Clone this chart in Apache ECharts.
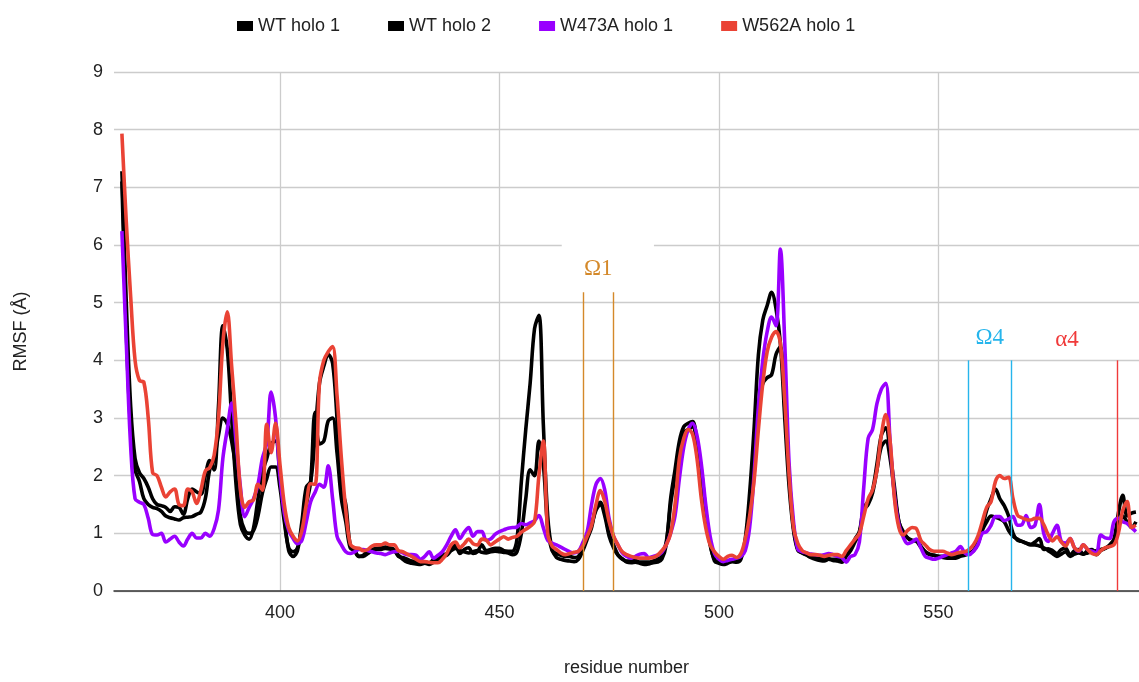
<!DOCTYPE html>
<html>
<head>
<meta charset="utf-8">
<script src="https://cdn.jsdelivr.net/npm/echarts@6/dist/echarts.min.js"></script>
<style>
html,body{margin:0;padding:0;background:#fff;}
#chart{width:1139px;height:682px;}
</style>
</head>
<body>
<div id="chart"></div>
<script>
// residue numbering of the first value in each series
const firstResidue = 364;
const seriesNames = ["WT holo 1", "WT holo 2", "W473A holo 1", "W562A holo 1"];
const xTicks = [400, 450, 500, 550];
const yTicks = [0,1,2,3,4,5,6,7,8,9];

const wtHolo1 = [
7.28,5.0,3.2,2.3,2.05,1.95,1.8,1.6,1.5,1.48,
1.45,1.38,1.46,1.45,1.33,1.6,1.77,1.72,1.68,2.0,
2.26,2.1,3.2,4.6,4.2,3.0,1.85,1.15,0.97,0.9,
1.1,1.6,2.06,2.3,2.55,2.6,2.0,1.3,0.7,0.6,
0.7,1.2,1.8,1.9,2.7,3.6,3.9,4.1,3.95,3.0,
1.8,1.5,0.8,0.7,0.6,0.62,0.7,0.72,0.74,0.75,
0.76,0.75,0.72,0.6,0.58,0.55,0.52,0.5,0.49,0.5,
0.49,0.55,0.6,0.62,0.65,0.72,0.8,0.65,0.72,0.75,
0.65,0.68,0.8,0.7,0.72,0.74,0.74,0.7,0.69,0.69,
0.9,1.9,2.8,3.6,4.55,4.78,2.9,1.3,0.72,0.58,
0.55,0.53,0.52,0.51,0.55,0.7,0.9,1.1,1.45,1.54,
1.35,1.0,0.8,0.63,0.56,0.5,0.49,0.5,0.48,0.46,
0.47,0.49,0.5,0.55,0.8,1.6,2.1,2.6,2.85,2.91,
2.94,2.6,2.1,1.4,0.85,0.52,0.48,0.46,0.48,0.51,
0.5,0.55,0.9,1.7,2.8,4.1,4.7,4.95,5.18,4.9,
4.3,3.0,1.8,1.05,0.7,0.66,0.62,0.58,0.55,0.53,
0.52,0.55,0.53,0.52,0.5,0.6,0.72,0.9,1.03,1.45,
1.55,1.75,2.2,2.7,2.83,2.4,1.8,1.2,1.03,0.92,
0.87,0.88,0.78,0.68,0.63,0.62,0.6,0.58,0.57,0.57,
0.57,0.6,0.62,0.65,0.7,0.85,1.1,1.4,1.6,1.77,
1.6,1.48,1.3,1.0,0.88,0.86,0.83,0.81,0.85,0.91,
0.72,0.73,0.7,0.65,0.72,0.74,0.62,0.7,0.72,0.64,
0.7,0.72,0.63,0.7,0.74,0.8,0.9,1.35,1.66,1.3,
1.35,1.37
];

const wtHolo2 = [
7.1,4.5,2.8,2.1,1.9,1.6,1.5,1.45,1.43,1.38,
1.3,1.27,1.25,1.23,1.27,1.28,1.29,1.33,1.37,1.6,
2.1,2.29,2.7,3.0,2.9,2.6,2.1,1.3,1.05,1.0,
1.05,1.3,1.7,1.95,2.15,2.15,1.8,1.2,0.75,0.68,
0.75,1.1,1.5,1.9,3.1,2.55,2.6,2.95,3.0,2.4,
1.6,1.2,0.75,0.7,0.6,0.6,0.65,0.7,0.72,0.72,
0.74,0.73,0.7,0.62,0.55,0.5,0.48,0.47,0.46,0.48,
0.46,0.5,0.55,0.6,0.62,0.7,0.74,0.7,0.68,0.66,
0.68,0.7,0.67,0.66,0.68,0.69,0.68,0.67,0.66,0.63,
0.68,1.0,1.6,2.1,2.0,2.6,2.2,1.1,0.7,0.65,
0.62,0.6,0.6,0.58,0.6,0.75,0.95,1.15,1.4,1.5,
1.3,0.95,0.75,0.62,0.55,0.52,0.52,0.53,0.5,0.5,
0.5,0.52,0.55,0.6,0.85,1.5,2.0,2.5,2.75,2.8,
2.85,2.55,2.0,1.35,0.8,0.55,0.5,0.5,0.52,0.52,
0.52,0.58,0.85,1.5,2.4,3.2,3.6,3.7,3.75,4.1,
4.24,3.2,2.0,1.1,0.72,0.66,0.63,0.6,0.58,0.56,
0.57,0.56,0.55,0.55,0.55,0.62,0.7,0.85,1.0,1.4,
1.5,1.7,2.1,2.5,2.6,2.3,1.7,1.2,1.0,0.92,
0.88,0.86,0.76,0.68,0.64,0.62,0.6,0.6,0.6,0.6,
0.6,0.62,0.64,0.66,0.7,0.82,1.05,1.2,1.3,1.28,
1.25,1.2,1.05,0.95,0.9,0.86,0.83,0.8,0.8,0.78,
0.75,0.7,0.65,0.6,0.64,0.68,0.6,0.64,0.66,0.64,
0.66,0.68,0.7,0.72,0.74,0.78,0.85,1.1,1.3,1.2,
1.1,1.2
];

const w473a = [
6.24,4.3,2.5,1.6,1.54,1.5,1.26,0.98,0.97,1.0,
0.85,0.9,0.95,0.85,0.78,0.9,1.0,0.92,0.92,1.0,
0.95,1.08,1.4,2.3,2.8,3.26,2.6,1.8,1.29,1.45,
1.6,1.85,2.3,2.57,3.45,3.0,2.0,1.35,1.05,0.91,
0.82,0.88,1.2,1.55,1.71,1.85,1.8,2.17,1.6,0.95,
0.8,0.68,0.65,0.68,0.72,0.72,0.7,0.68,0.66,0.65,
0.63,0.66,0.68,0.69,0.66,0.63,0.63,0.62,0.55,0.6,
0.68,0.57,0.62,0.68,0.8,0.95,1.06,0.91,1.02,1.1,
0.95,1.03,1.03,0.88,0.9,0.98,1.03,1.06,1.09,1.1,
1.11,1.17,1.15,1.18,1.22,1.31,1.1,0.88,0.83,0.8,
0.76,0.72,0.68,0.66,0.69,0.84,1.03,1.5,1.85,1.95,
1.75,1.25,0.95,0.8,0.66,0.6,0.57,0.6,0.64,0.65,
0.58,0.6,0.62,0.67,0.8,1.0,1.3,1.95,2.5,2.8,
2.91,2.7,2.2,1.5,0.95,0.65,0.55,0.51,0.53,0.55,
0.57,0.6,0.7,1.1,2.0,3.2,4.0,4.5,4.75,4.6,
5.93,4.3,2.2,1.2,0.72,0.68,0.66,0.64,0.63,0.62,
0.63,0.65,0.63,0.6,0.58,0.5,0.6,0.63,0.85,1.8,
2.65,2.8,3.25,3.5,3.6,2.6,1.65,1.15,0.93,0.82,
0.85,0.9,0.75,0.6,0.57,0.55,0.57,0.6,0.63,0.66,
0.69,0.77,0.66,0.63,0.69,0.8,1.0,1.03,1.14,1.29,
1.29,1.22,1.25,1.29,1.14,1.15,1.31,1.1,1.14,1.5,
1.0,0.86,1.0,1.14,0.86,0.83,0.91,0.75,0.69,0.8,
0.72,0.69,0.66,0.97,0.92,0.91,1.2,1.26,1.2,1.17,
1.1,1.03
];

const w562a = [
7.93,6.4,5.1,4.0,3.65,3.62,3.0,2.05,2.0,1.8,
1.63,1.72,1.77,1.5,1.48,1.77,1.72,1.52,1.75,2.08,
2.14,2.35,3.0,4.3,4.84,3.9,2.9,1.75,1.45,1.55,
1.58,1.85,1.75,2.89,2.4,2.91,2.2,1.5,1.1,0.95,
0.87,1.05,1.5,1.86,1.85,3.6,4.0,4.15,4.24,3.4,
2.3,1.4,0.82,0.75,0.74,0.7,0.72,0.78,0.8,0.8,
0.83,0.8,0.8,0.7,0.68,0.64,0.6,0.55,0.51,0.51,
0.5,0.49,0.49,0.55,0.65,0.8,0.85,0.75,0.82,0.9,
0.82,0.8,0.9,0.88,0.8,0.85,0.9,0.94,0.9,0.93,
0.95,1.02,1.07,1.12,1.2,2.0,2.6,1.0,0.78,0.72,
0.66,0.63,0.65,0.67,0.69,0.78,0.95,1.14,1.5,1.74,
1.55,1.2,0.95,0.8,0.68,0.63,0.6,0.58,0.57,0.57,
0.57,0.58,0.62,0.7,0.8,1.0,1.5,2.3,2.65,2.8,
2.72,2.3,1.6,1.1,0.8,0.68,0.6,0.55,0.6,0.62,
0.58,0.65,0.9,1.3,1.9,2.8,3.6,4.15,4.4,4.5,
4.3,3.3,2.0,1.1,0.82,0.7,0.66,0.63,0.63,0.62,
0.6,0.62,0.63,0.63,0.6,0.7,0.8,0.9,1.0,1.3,
1.6,1.75,2.1,2.7,3.06,2.6,1.6,1.1,0.97,1.05,
1.1,1.08,0.88,0.8,0.72,0.69,0.69,0.69,0.66,0.63,
0.65,0.67,0.68,0.72,0.8,0.95,1.2,1.45,1.55,1.9,
2.0,1.95,1.97,1.6,1.32,1.27,1.24,1.23,1.26,1.26,
1.15,0.98,0.87,0.94,0.85,0.78,0.91,0.75,0.7,0.8,
0.72,0.65,0.63,0.7,0.75,0.77,0.8,1.0,1.4,1.55,
1.1,1.14
];

// region annotations: label, residues of the vertical lines, top value, label position
const omega1 = {label: "Ω1", lines: [469, 476], top: 5.18, labelAt: [472.5, 5.58]};
const omega4 = {label: "Ω4", lines: [556.7, 566.7], top: 4.0, labelAt: [561.7, 4.38]};
const alpha4 = {label: "α4", lines: [590.7], top: 4.0, labelAt: [579.3, 4.36]};

const xMin = 362.2, xMax = 595.7;
const colors = ["#000000", "#000000", "#9900ff", "#ea4335"];
const datasets = [wtHolo1, wtHolo2, w473a, w562a];

function toPairs(arr){ return arr.map((v,i)=>[firstResidue+i, v]); }

function annotationSeries(a, color){
  return {
    type: 'line', data: [], silent: true, z: 5,
    markLine: {
      silent: true, symbol: ['none','none'], animation: false,
      lineStyle: {color: color, width: 1.4, type: 'solid'},
      label: {show: false},
      data: a.lines.map(x => [{coord: [x, 0]}, {coord: [x, a.top]}])
    },
    markPoint: {
      silent: true, animation: false, symbol: 'circle', symbolSize: 0,
      label: {show: true, formatter: a.label, color: color, fontFamily: 'Liberation Serif, DejaVu Serif, serif', fontSize: 23, position: 'inside'},
      data: [{coord: a.labelAt, value: 0}]
    }
  };
}

const chart = echarts.init(document.getElementById('chart'), null, {renderer: 'canvas'});
const series = datasets.map((d, i) => ({
  name: seriesNames[i], type: 'line', data: toPairs(d), smooth: 0.35,
  showSymbol: false, symbol: 'none', animation: false,
  lineStyle: {color: colors[i], width: 3.6}, itemStyle: {color: colors[i]}, z: 3
}));
// white patch behind the Ω1 label (as in the reference)
series.push({
  type: 'line', data: [], silent: true, z: 2,
  markArea: {silent: true, animation: false, itemStyle: {color: '#ffffff', opacity: 1},
    data: [[{coord: [464.2, 5.95]}, {coord: [485.2, 6.05]}]]}
});
series.push(annotationSeries(omega1, '#d4892a'));
series.push(annotationSeries(omega4, '#26b5ec'));
series.push(annotationSeries(alpha4, '#f03a3a'));

chart.setOption({
  backgroundColor: '#ffffff',
  animation: false,
  textStyle: {fontFamily: 'Liberation Sans, Arial, sans-serif'},
  legend: {
    data: seriesNames.map((n,i)=>({name: n, itemStyle: {color: colors[i]}})),
    top: 12, left: 232, icon: 'rect', itemWidth: 16, itemHeight: 10, itemGap: 48,
    textStyle: {fontSize: 18, color: '#222'}
  },
  grid: {left: 114, right: 0, top: 72, bottom: 85, containLabel: false},
  xAxis: {
    type: 'value', min: xMin, max: xMax,
    name: 'residue number', nameLocation: 'middle', nameGap: 68,
    nameTextStyle: {fontSize: 18, color: '#222'},
    axisLine: {show: true, onZero: false, lineStyle: {color: '#333', width: 1.5}},
    axisTick: {show: false},
    axisLabel: {fontSize: 18, color: '#222', margin: 13,
      formatter: v => xTicks.includes(Math.round(v*1000)/1000) ? String(v) : '',
      showMinLabel: false, showMaxLabel: false},
    splitLine: {show: true, showMinLine: false, showMaxLine: false, lineStyle: {color: '#cccccc', width: 1.3}}
  },
  yAxis: {
    type: 'value', min: 0, max: 9, interval: 1,
    name: 'RMSF (Å)', nameLocation: 'middle', nameGap: 84, nameRotate: 90,
    nameTextStyle: {fontSize: 18, color: '#222'},
    axisLine: {show: false}, axisTick: {show: false},
    axisLabel: {fontSize: 18, color: '#222', margin: 11,
      formatter: v => yTicks.includes(v) ? String(v) : ''},
    splitLine: {show: true, lineStyle: {color: '#cccccc', width: 1.3}}
  },
  series: series
});
</script>
</body>
</html>
